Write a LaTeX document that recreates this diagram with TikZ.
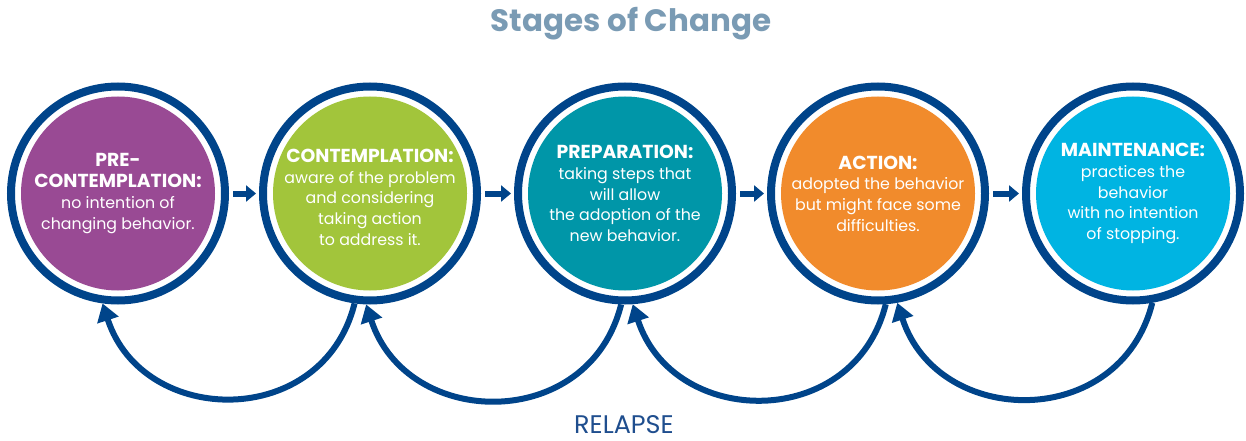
\documentclass[tikz,border=0pt]{standalone}
\usepackage{fontspec}
\setmainfont{Poppins}
\definecolor{ringblue}{RGB}{0, 68, 138}
\definecolor{titlegray}{RGB}{122, 155, 180}
\definecolor{relapseblue}{RGB}{31, 78, 142}
\definecolor{precon}{RGB}{153, 74, 148}
\definecolor{contemp}{RGB}{162, 197, 59}
\definecolor{prep}{RGB}{0, 150, 168}
\definecolor{actn}{RGB}{241, 139, 44}
\definecolor{maint}{RGB}{0, 180, 226}
\usetikzlibrary{arrows.meta}
\newcommand{\stagehead}[1]{{\fontsize{10.7}{11.8}\selectfont\bfseries #1}}

\begin{document}
\begin{tikzpicture}[
    stage/.style={circle, draw=ringblue, line width=0.16cm, fill=white, minimum size=4.28cm,
      inner sep=0pt, text=white, align=center, font=\fontsize{9}{11.8}\selectfont,
      path picture={\fill[#1] (path picture bounding box.center) circle (1.94cm);}},
    fwd/.style={-{Triangle[length=0.2cm, width=0.32cm]}, line width=0.12cm, ringblue,
      shorten <=0.08cm, shorten >=0.06cm},
    relapse/.style={-{Triangle[length=0.35cm, width=0.43cm]}, line width=0.12cm, ringblue}
  ]
  \useasboundingbox (0, 0) rectangle (24.92, 8.8);

  % Title
  \node[anchor=base, font=\fontsize{17.6}{21}\selectfont\bfseries, text=titlegray] (title) at (12.62, 8.16) {Stages of Change};

  % The five stages
  \node[stage=precon] (s1) at (2.36, 4.93) {
    \stagehead{PRE-}\\
    \stagehead{CONTEMPLATION:}\\
    no intention of\\
    changing behavior.
  };
  \node[stage=contemp] (s2) at (7.40, 4.93) {
    \mbox{}\\
    \stagehead{CONTEMPLATION:}\\
    aware of the problem\\
    and considering\\
    taking action\\
    to address it.
  };
  \node[stage=prep] (s3) at (12.50, 4.93) {
    \stagehead{PREPARATION:}\\
    taking steps that\\
    will allow\\
    the adoption of the\\
    new behavior.
  };
  \node[stage=actn] (s4) at (17.56, 4.93) {
    \stagehead{ACTION:}\\
    adopted the behavior\\
    but might face some\\
    difficulties.
  };
  \node[stage=maint] (s5) at (22.66, 4.93) {
    \stagehead{MAINTENANCE:}\\
    practices the\\
    behavior\\
    with no intention\\
    of stopping.
  };

  % Forward arrows
  \draw[fwd] (s1.east) -- (s2.west);
  \draw[fwd] (s2.east) -- (s3.west);
  \draw[fwd] (s3.east) -- (s4.west);
  \draw[fwd] (s4.east) -- (s5.west);

  % Relapse loops
  \draw[relapse] (s2.262) to[out=-104, in=-72, looseness=1.33] (s1.262);
  \draw[relapse] (s3.268) to[out=-104, in=-72, looseness=1.33] (s2.268);
  \draw[relapse] (s4.274) to[out=-104, in=-72, looseness=1.33] (s3.274);
  \draw[relapse] (s5.280) to[out=-104, in=-72, looseness=1.33] (s4.280);

  \node[anchor=base, inner sep=0pt, font=\fontsize{14.5}{16}\selectfont, text=relapseblue] (relapse) at (12.48, 0.14) {RELAPSE};
\end{tikzpicture}
\end{document}
